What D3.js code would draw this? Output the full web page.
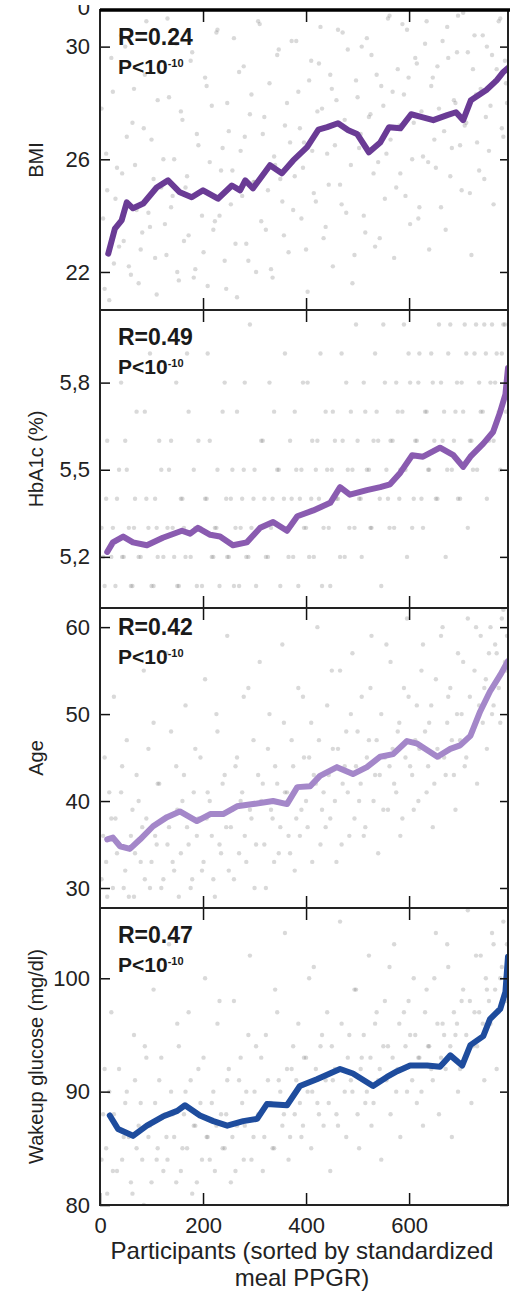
<!DOCTYPE html>
<meta charset="utf-8">
<style>
  body { margin: 0; background: #fff; }
  text { font-family: "Liberation Sans", Arial, sans-serif; }
</style>
<body>
<script src="https://cdn.jsdelivr.net/npm/d3@7"></script>
<script>

// participants (rank after sorting by standardized meal PPGR), shared by all panels
var participantRank = [3, 9, 14, 22, 27, 33, 41, 46, 52, 60, 66, 71, 79, 85, 90, 97, 104, 110, 115, 123,
  129, 134, 141, 148, 153, 160, 166, 172, 179, 185, 191, 198, 204, 209, 217, 223, 228, 235, 242, 247,
  254, 260, 266, 273, 279, 284, 291, 298, 303, 310, 316, 322, 329, 335, 340, 347, 354, 359, 366, 372,
  378, 385, 391, 396, 403, 410, 415, 422, 428, 434, 441, 447, 452, 459, 466, 471, 478, 484, 490, 497,
  503, 508, 515, 522, 527, 534, 540, 546, 553, 559, 564, 571, 578, 583, 590, 596, 602, 609, 615, 620,
  627, 634, 639, 646, 652, 658, 665, 671, 676, 683, 690, 695, 702, 708, 714, 721, 727, 732, 739, 746,
  751, 758, 764, 770, 777, 783, 788];
var participantRank2 = [6, 12, 18, 25, 30, 37, 43, 49, 56, 63, 68, 75, 82, 87, 94, 100, 107, 112, 119, 126,
  131, 138, 144, 150, 157, 163, 169, 176, 182, 188, 195, 201, 207, 213, 220, 226, 232, 238, 245, 250,
  257, 263, 270, 276, 281, 288, 294, 300, 307, 313, 319, 326, 332, 338, 344, 350, 357, 363, 369, 375,
  381, 388, 394, 400, 406, 412, 419, 425, 431, 438, 444, 450, 456, 462, 469, 475, 481, 487, 494, 500,
  506, 512, 518, 525, 531, 537, 543, 550, 556, 562, 568, 575, 581, 587, 593, 599, 606, 612, 618, 624,
  631, 637, 643, 649, 655, 662, 668, 674, 680, 687, 693, 699, 705, 711, 718, 724, 730, 736, 743, 749,
  755, 761, 767, 774, 780, 786, 790];

var bmiValues = [27.8, 21.4, 24.9, 29.6, 22.3, 25.7, 30.4, 23.1, 26.8, 21.9,
  28.5, 24.2, 22.8, 27.1, 30.9, 23.6, 25.3, 21.2, 29.1, 26.0,
  22.6, 28.2, 24.7, 30.1, 21.7, 27.4, 25.0, 23.3, 29.8, 22.1,
  26.5, 24.0, 28.9, 21.5, 27.9, 23.8, 30.6, 25.6, 22.4, 28.0,
  24.4, 30.3, 21.1, 26.3, 29.3, 23.0, 27.6, 25.2, 22.0, 30.8,
  26.9, 23.5, 28.7, 21.8, 25.8, 29.9, 24.5, 27.2, 22.7, 30.2,
  25.4, 28.4, 23.9, 26.6, 21.3, 29.5, 24.8, 27.7, 30.7, 23.2,
  26.2, 29.0, 22.2, 28.1, 25.1, 30.5, 24.1, 27.0, 21.6, 28.8,
  26.4, 30.0, 23.4, 27.5, 29.7, 22.9, 25.9, 28.6, 24.6, 31.0,
  26.7, 22.5, 29.2, 25.5, 28.3, 30.6, 23.7, 27.3, 29.4, 24.3,
  26.1, 30.9, 22.8, 28.9, 25.7, 27.8, 30.2, 23.5, 29.6, 26.4,
  28.0, 31.1, 24.9, 27.2, 29.8, 22.6, 30.4, 26.6, 28.5, 25.3,
  30.0, 27.9, 24.4, 29.2, 31.0, 26.8, 28.7];
var bmiValues2 = [23.9, 26.2, 21.0, 28.4, 24.6, 22.9, 25.5, 30.0, 22.2, 27.3,
  25.8, 21.6, 23.4, 29.0, 24.1, 26.7, 22.5, 28.1, 25.0, 23.7,
  31.0, 24.3, 26.0, 22.0, 27.7, 23.1, 25.4, 29.5, 21.8, 26.9,
  24.8, 22.7, 28.6, 25.9, 23.5, 30.5, 24.0, 26.4, 21.4, 27.0,
  25.6, 23.0, 29.1, 24.7, 26.8, 22.4, 28.3, 25.2, 30.9, 23.8,
  27.5, 24.9, 22.1, 26.1, 29.7, 25.3, 23.3, 28.0, 26.6, 24.2,
  30.2, 27.1, 25.7, 22.8, 28.8, 26.3, 24.5, 29.4, 27.8, 23.6,
  25.1, 28.5, 26.5, 30.6, 24.4, 27.4, 29.9, 25.8, 22.6, 28.2,
  26.9, 24.0, 30.3, 27.6, 25.5, 29.0, 23.2, 27.9, 26.2, 31.1,
  28.4, 25.0, 27.2, 30.8, 24.7, 28.9, 26.0, 29.6, 23.9, 27.7,
  30.1, 25.9, 28.6, 26.7, 29.3, 24.3, 27.0, 30.7, 25.4, 28.1,
  29.8, 26.5, 31.2, 27.3, 24.8, 29.2, 28.3, 25.6, 30.4, 27.5,
  26.3, 29.7, 28.8, 30.9, 27.1, 29.5, 28.0];

var hba1cValues = [5.3, 5.1, 5.6, 5.2, 5.0, 5.4, 5.8, 5.2, 5.5, 5.1,
  5.3, 5.7, 5.2, 5.0, 5.4, 5.9, 5.1, 5.3, 5.6, 5.2,
  5.0, 5.5, 5.3, 5.8, 5.1, 5.4, 5.2, 5.7, 5.0, 5.3,
  5.6, 5.1, 5.4, 5.9, 5.2, 5.3, 5.5, 5.0, 5.8, 5.2,
  5.4, 5.1, 5.7, 5.3, 5.5, 5.2, 6.0, 5.4, 5.1, 5.3,
  5.6, 5.2, 5.8, 5.4, 5.0, 5.5, 5.3, 5.9, 5.2, 5.4,
  5.7, 5.1, 5.5, 5.3, 5.8, 5.4, 5.2, 5.6, 5.9, 5.3,
  5.5, 5.1, 5.7, 5.4, 5.2, 5.6, 5.8, 5.3, 5.5, 6.0,
  5.4, 5.2, 5.7, 5.5, 5.3, 5.9, 5.6, 5.1, 5.8, 5.4,
  5.6, 5.3, 5.7, 5.5, 6.0, 5.2, 5.8, 5.4, 5.6, 5.9,
  5.3, 5.7, 5.5, 5.8, 5.4, 6.0, 5.6, 5.2, 5.9, 5.5,
  5.7, 5.4, 5.8, 6.0, 5.3, 5.6, 5.9, 5.5, 5.7, 6.0,
  5.4, 5.8, 5.6, 5.9, 5.5, 6.0, 5.7];
var hba1cValues2 = [5.2, 5.4, 5.0, 5.3, 5.1, 5.5, 5.2, 5.6, 5.3, 5.1,
  5.4, 5.2, 5.0, 5.7, 5.3, 5.1, 5.4, 5.2, 5.5, 5.0,
  5.3, 5.6, 5.2, 5.1, 5.4, 5.3, 5.9, 5.2, 5.5, 5.1,
  5.3, 5.0, 5.4, 5.6, 5.2, 5.3, 5.1, 5.7, 5.4, 5.2,
  5.5, 5.3, 5.1, 5.4, 5.8, 5.2, 5.3, 5.5, 5.0, 5.6,
  5.4, 5.2, 5.3, 5.7, 5.5, 5.1, 5.4, 5.3, 5.6, 5.2,
  5.5, 5.4, 5.8, 5.3, 5.2, 5.6, 5.5, 5.4, 5.1, 5.7,
  5.3, 5.5, 5.6, 5.4, 5.9, 5.2, 5.5, 5.7, 5.3, 5.6,
  5.4, 5.8, 5.5, 5.3, 5.6, 5.7, 5.4, 6.0, 5.5, 5.3,
  5.6, 5.8, 5.4, 5.7, 5.5, 5.9, 5.3, 5.6, 5.8, 5.4,
  5.7, 5.5, 5.9, 5.6, 5.4, 5.8, 5.7, 5.5, 6.0, 5.6,
  5.8, 5.4, 5.7, 5.9, 5.6, 5.5, 6.0, 5.8, 5.7, 5.9,
  5.6, 6.0, 5.8, 5.7, 5.9, 6.0, 5.8];

var ageValues = [31, 45, 29, 38, 52, 34, 41, 30, 47, 36,
  29, 43, 33, 55, 38, 30, 49, 35, 42, 31,
  57, 37, 33, 44, 29, 40, 51, 35, 31, 46,
  38, 32, 54, 41, 36, 29, 48, 34, 43, 59,
  37, 31, 45, 40, 52, 33, 39, 47, 35, 56,
  42, 30, 50, 38, 44, 34, 58, 41, 36, 47,
  32, 53, 39, 45, 37, 49, 43, 60, 35, 41,
  51, 38, 46, 33, 55, 42, 48, 36, 57, 44,
  40, 52, 37, 47, 59, 43, 34, 50, 45, 39,
  56, 42, 48, 36, 53, 61, 44, 39, 51, 46,
  58, 41, 49, 37, 54, 45, 60, 43, 52, 47,
  39, 57, 50, 44, 61, 48, 55, 42, 59, 53,
  46, 60, 51, 57, 49, 62, 55];
var ageValues2 = [36, 33, 41, 30, 38, 35, 44, 32, 29, 39,
  34, 40, 37, 31, 46, 33, 36, 42, 30, 38,
  35, 48, 32, 39, 34, 43, 37, 30, 41, 36,
  45, 33, 38, 40, 31, 50, 35, 42, 37, 32,
  39, 44, 34, 41, 36, 53, 38, 30, 43, 40,
  35, 46, 39, 33, 42, 37, 49, 41, 34, 44,
  38, 36, 52, 40, 45, 33, 42, 47, 39, 37,
  43, 55, 40, 46, 35, 44, 41, 50, 38, 48,
  42, 36, 45, 53, 40, 47, 43, 39, 58, 44,
  46, 41, 49, 38, 45, 52, 43, 47, 40, 55,
  48, 44, 51, 42, 46, 59, 45, 49, 53, 43,
  50, 47, 56, 45, 52, 48, 60, 51, 49, 54,
  57, 50, 58, 53, 61, 56, 59];

var glucoseValues = [84, 92, 81, 97, 88, 83, 101, 86, 90, 82,
  95, 85, 89, 80, 93, 87, 99, 84, 91, 83,
  86, 103, 88, 82, 94, 85, 90, 97, 81, 87,
  92, 84, 100, 86, 89, 83, 96, 88, 85, 91,
  82, 98, 87, 93, 84, 90, 102, 86, 94, 88,
  83, 95, 89, 85, 99, 91, 87, 104, 84, 92,
  88, 96, 86, 93, 90, 85, 101, 89, 94, 87,
  97, 83, 91, 88, 105, 92, 86, 95, 90, 99,
  85, 93, 89, 102, 87, 96, 91, 84, 98, 94,
  88, 103, 92, 86, 97, 90, 95, 100, 89, 93,
  87, 99, 94, 91, 104, 88, 96, 92, 101, 86,
  95, 90, 98, 93, 106, 89, 97, 94, 102, 91,
  99, 96, 103, 92, 100, 105, 98];
var glucoseValues2 = [88, 85, 90, 83, 87, 92, 84, 89, 86, 81,
  91, 87, 84, 94, 86, 82, 89, 85, 93, 88,
  84, 90, 86, 96, 83, 88, 85, 91, 87, 82,
  89, 93, 86, 84, 90, 87, 98, 85, 88, 92,
  86, 83, 91, 89, 87, 95, 84, 90, 88, 93,
  86, 91, 89, 85, 97, 90, 88, 92, 86, 94,
  91, 89, 87, 93, 100, 90, 92, 88, 95, 91,
  89, 94, 92, 87, 96, 90, 93, 91, 99, 88,
  92, 95, 90, 93, 89, 97, 92, 94, 91, 101,
  93, 90, 96, 92, 94, 98, 91, 95, 93, 90,
  97, 94, 92, 100, 96, 93, 95, 103, 94, 97,
  96, 92, 99, 95, 98, 94, 102, 97, 96, 100,
  98, 104, 99, 97, 101, 100, 103];

// running means [rank, value]
var bmiMean = [[16, 22.65], [29, 23.54], [42, 23.83], [52, 24.47], [64, 24.26], [84, 24.43], [110, 25.0],
  [132, 25.25], [155, 24.83], [178, 24.65], [200, 24.9], [229, 24.6], [256, 25.07], [272, 24.9],
  [282, 25.25], [297, 24.97], [330, 25.79], [353, 25.5], [375, 25.96], [402, 26.43], [424, 27.05],
  [441, 27.14], [462, 27.28], [482, 27.03], [499, 26.9], [522, 26.25], [544, 26.6], [561, 27.14],
  [583, 27.1], [604, 27.6], [625, 27.5], [647, 27.39], [674, 27.57], [691, 27.67], [705, 27.39],
  [720, 28.1], [750, 28.46], [770, 28.8], [783, 29.1], [792, 29.24]];

var hba1cMean = [[14, 5.217], [25, 5.25], [45, 5.27], [64, 5.25], [91, 5.24], [122, 5.266], [159, 5.29],
  [175, 5.28], [190, 5.30], [214, 5.276], [233, 5.27], [258, 5.24], [285, 5.25], [311, 5.30],
  [336, 5.32], [363, 5.29], [383, 5.34], [414, 5.36], [447, 5.386], [466, 5.44], [485, 5.414],
  [518, 5.43], [544, 5.44], [563, 5.45], [583, 5.49], [606, 5.55], [627, 5.545], [660, 5.576],
  [686, 5.55], [705, 5.51], [719, 5.545], [744, 5.59], [763, 5.63], [777, 5.70], [787, 5.76],
  [792, 5.85]];

var ageMean = [[14, 35.6], [25, 35.8], [39, 34.8], [58, 34.5], [78, 35.6], [103, 37.1], [130, 38.15],
  [155, 38.8], [188, 37.7], [214, 38.5], [239, 38.5], [266, 39.4], [297, 39.65], [336, 40.0],
  [363, 39.65], [383, 41.6], [408, 41.7], [427, 42.9], [460, 43.9], [491, 43.1], [518, 43.9],
  [544, 45.1], [569, 45.4], [596, 46.9], [616, 46.6], [655, 45.1], [680, 46.0], [699, 46.4],
  [719, 47.5], [738, 50.3], [757, 52.6], [777, 54.5], [792, 56.1]];

var glucoseMean = [[19, 87.9], [35, 86.7], [64, 86.1], [91, 87.0], [122, 87.8], [150, 88.3], [165, 88.8],
  [194, 87.9], [220, 87.4], [247, 87.0], [278, 87.4], [305, 87.6], [324, 88.9], [363, 88.8],
  [388, 90.5], [421, 91.1], [466, 92.0], [491, 91.6], [530, 90.5], [557, 91.3], [577, 91.8],
  [602, 92.3], [635, 92.3], [660, 92.2], [680, 93.2], [703, 92.3], [719, 94.1], [744, 94.9],
  [757, 96.4], [777, 97.3], [787, 98.8], [792, 101.9]];

var xTicks = [0, 200, 400, 600];
var bmiTicks = [22, 26, 30];
var hba1cTicks = [5.2, 5.5, 5.8];
var ageTicks = [30, 40, 50, 60];
var glucoseTicks = [80, 90, 100];

var yLabels = ["BMI", "HbA1c (%)", "Age", "Wakeup glucose (mg/dl)"];
var rValues = ["R=0.24", "R=0.49", "R=0.42", "R=0.47"];
var lineColors = ["#6a3b95", "#8a5bb0", "#a487c9", "#1e4c9d"];

var width = 516, height = 1294;
var left = 100, right = 508;

var svg = d3.select("body").append("svg")
    .attr("width", width)
    .attr("height", height);

var x = d3.scaleLinear().domain([0, 792]).range([left, right]);

var comma = function(d) { return d3.format(".1f")(d).replace(".", ","); };

var ranks = participantRank.concat(participantRank2);

var panels = [
  { top: 10, bottom: 310, domain: [20.65, 31.3], ticks: bmiTicks, fmt: String, values: bmiValues.concat(bmiValues2), mean: bmiMean, ann: 35 },
  { top: 310, bottom: 608, domain: [5.024, 6.05], ticks: hba1cTicks, fmt: comma, values: hba1cValues.concat(hba1cValues2), mean: hba1cMean, ann: 35 },
  { top: 608, bottom: 908, domain: [27.7, 62.2], ticks: ageTicks, fmt: String, values: ageValues.concat(ageValues2), mean: ageMean, ann: 27 },
  { top: 908, bottom: 1205, domain: [80, 106.2], ticks: glucoseTicks, fmt: String, values: glucoseValues.concat(glucoseValues2), mean: glucoseMean, ann: 35 }
];

function styleAxis(g) {
  g.select(".domain").remove();
  g.selectAll(".tick line").attr("stroke", "#111").attr("stroke-width", 1.5);
  g.selectAll(".tick text").attr("fill", "#222").attr("font-size", 22)
    .attr("font-family", "Liberation Sans, Arial, sans-serif");
}

panels.forEach(function(p, i) {
  var y = d3.scaleLinear().domain(p.domain).range([p.bottom, p.top]);
  var g = svg.append("g");

  g.append("clipPath").attr("id", "clip" + i)
    .append("rect")
      .attr("x", left).attr("y", p.top)
      .attr("width", right - left).attr("height", p.bottom - p.top);

  var plot = g.append("g").attr("clip-path", "url(#clip" + i + ")");

  plot.selectAll("circle")
    .data(p.values)
    .enter().append("circle")
      .attr("cx", function(d, j) { return x(ranks[j]); })
      .attr("cy", function(d) { return y(d); })
      .attr("r", 2.2)
      .attr("fill", "#777")
      .attr("opacity", 0.28);

  var line = d3.line()
      .x(function(d) { return x(d[0]); })
      .y(function(d) { return y(d[1]); });

  plot.append("path")
      .datum(p.mean)
      .attr("d", line)
      .attr("fill", "none")
      .attr("stroke", lineColors[i])
      .attr("stroke-width", 6)
      .attr("stroke-linejoin", "round")
      .attr("stroke-linecap", "round");

  // axes with inward ticks
  g.append("g")
      .attr("transform", "translate(" + left + ",0)")
      .call(d3.axisLeft(y).tickValues(p.ticks).tickFormat(p.fmt).tickSizeInner(-10).tickSizeOuter(0).tickPadding(10))
      .call(styleAxis);

  g.append("g")
      .attr("transform", "translate(" + right + ",0)")
      .call(d3.axisRight(y).tickValues(p.ticks).tickFormat("").tickSizeInner(-8).tickSizeOuter(0))
      .call(styleAxis);

  g.append("g")
      .attr("transform", "translate(0," + p.top + ")")
      .call(d3.axisTop(x).tickValues(xTicks.slice(1)).tickFormat("").tickSizeInner(-12).tickSizeOuter(0))
      .call(styleAxis);

  var bottomAxis = d3.axisBottom(x).tickSizeInner(-12).tickSizeOuter(0).tickPadding(12);
  if (i === panels.length - 1) bottomAxis.tickValues(xTicks).tickFormat(d3.format("d"));
  else bottomAxis.tickValues(xTicks.slice(1)).tickFormat("");
  g.append("g")
      .attr("transform", "translate(0," + p.bottom + ")")
      .call(bottomAxis)
      .call(styleAxis);

  g.append("rect")
      .attr("x", left).attr("y", p.top)
      .attr("width", right - left).attr("height", p.bottom - p.top)
      .attr("fill", "none")
      .attr("stroke", "#222")
      .attr("stroke-width", 2);

  // annotation
  g.append("text")
      .attr("x", 118).attr("y", p.top + p.ann)
      .attr("font-size", 23).attr("font-weight", "bold").attr("fill", "#1a1a1a")
      .text(rValues[i]);
  var pt = g.append("text")
      .attr("x", 118).attr("y", p.top + p.ann + 29)
      .attr("font-size", 21).attr("font-weight", "bold").attr("fill", "#1a1a1a");
  pt.append("tspan").text("P<10");
  pt.append("tspan").attr("dy", -7).attr("font-size", 11).text("-10");

  g.append("text")
      .attr("transform", "translate(43," + (p.top + p.bottom) / 2 + ") rotate(-90)")
      .attr("text-anchor", "middle")
      .attr("font-size", 20)
      .attr("fill", "#222")
      .text(yLabels[i]);
});

// thick top border and the clipped label left over from the panel above
svg.append("line")
    .attr("x1", left).attr("x2", right + 2)
    .attr("y1", 10).attr("y2", 10)
    .attr("stroke", "#000").attr("stroke-width", 3.5);

svg.append("clipPath").attr("id", "topclip")
  .append("rect").attr("x", 60).attr("y", 5).attr("width", 40).attr("height", 12);
svg.append("text")
    .attr("clip-path", "url(#topclip)")
    .attr("x", 90).attr("y", 15)
    .attr("text-anchor", "end")
    .attr("font-size", 22).attr("fill", "#222")
    .text("0");

svg.append("text")
    .attr("x", 302).attr("y", 1259)
    .attr("text-anchor", "middle")
    .attr("font-size", 24).attr("fill", "#222")
    .text("Participants (sorted by standardized");
svg.append("text")
    .attr("x", 302).attr("y", 1286)
    .attr("text-anchor", "middle")
    .attr("font-size", 24).attr("fill", "#222")
    .text("meal PPGR)");

</script>
</body>
